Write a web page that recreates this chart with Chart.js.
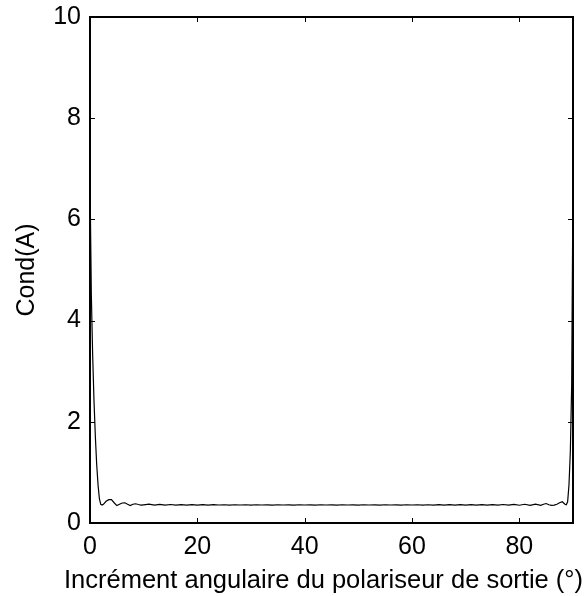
<!DOCTYPE html>
<html>
<head>
<meta charset="utf-8">
<script src="https://cdn.jsdelivr.net/npm/chart.js@4/dist/chart.umd.min.js"></script>
<style>
  body { margin: 0; background: #fff; }
  #wrap { width: 587px; height: 596px; }
</style>
</head>
<body>
<div id="wrap"><canvas id="chart" width="587" height="596"></canvas></div>
<script>
// angle (deg) of the output polariser
const angleDeg = [
  0, 0.25, 0.5, 0.75, 1, 1.25, 1.5, 1.75, 2, 2.25, 2.5, 3, 3.5, 4, 4.5, 5, 5.5, 6, 6.5, 7, 7.5, 8, 8.5, 9, 9.5, 10,
  11, 12, 13, 14, 15, 16, 17, 18, 19, 20, 21, 22, 23, 24, 25, 26, 27, 28, 29, 30,
  31, 32, 33, 34, 35, 36, 37, 38, 39, 40, 41, 42, 43, 44, 45, 46, 47, 48, 49, 50,
  51, 52, 53, 54, 55, 56, 57, 58, 59, 60, 61, 62, 63, 64, 65, 66, 67, 68, 69, 70,
  71, 72, 73, 74, 75, 76, 77, 78, 79, 80, 81, 82, 83, 84,
  84.5, 85, 85.5, 86, 86.5, 87, 87.5, 88, 88.5, 88.75, 89, 89.25, 89.5, 89.75, 90
];
// Cond(A)
const condA = [
  6.8, 4.5, 3.3, 2.4, 1.7, 1.15, 0.75, 0.48, 0.37, 0.355, 0.37, 0.43, 0.46, 0.46, 0.40, 0.345, 0.37, 0.395, 0.40, 0.37, 0.345, 0.37, 0.38, 0.365, 0.355, 0.36,
  0.371, 0.354, 0.368, 0.354, 0.366, 0.355, 0.364, 0.355, 0.363, 0.355, 0.362, 0.355, 0.362, 0.356, 0.361, 0.355, 0.361, 0.356, 0.361, 0.355,
  0.361, 0.356, 0.360, 0.355, 0.361, 0.356, 0.360, 0.355, 0.361, 0.356, 0.360, 0.355, 0.361, 0.356, 0.360, 0.355, 0.361, 0.356, 0.360, 0.355,
  0.361, 0.356, 0.360, 0.355, 0.361, 0.356, 0.360, 0.355, 0.361, 0.356, 0.361, 0.355, 0.361, 0.355, 0.362, 0.355, 0.362, 0.355, 0.362, 0.354,
  0.363, 0.354, 0.364, 0.353, 0.365, 0.353, 0.366, 0.352, 0.368, 0.351, 0.370, 0.350, 0.374, 0.350,
  0.37, 0.385, 0.36, 0.35, 0.355, 0.37, 0.40, 0.42, 0.37, 0.36, 0.42, 0.75, 1.4, 2.7, 6.8
];
const xTicks = [0, 20, 40, 60, 80];
const yTicks = [0, 2, 4, 6, 8, 10];
const xTitle = 'Incrément angulaire du polariseur de sortie (°)';

const family = "'Liberation Sans', Arial, sans-serif";
const font = { family: family, size: 25 };

// MATLAB style box with inward ticks on all sides, plus the x label
// (Chart.js squeezes its own title to the axis width, this one is wider)
const boxTicks = {
  id: 'boxTicks',
  afterDraw(chart) {
    const { ctx, chartArea: a, scales } = chart;
    const x = scales.x, y = scales.y;
    ctx.save();
    ctx.strokeStyle = '#000';
    ctx.lineWidth = 1;
    ctx.beginPath();
    x.ticks.forEach(t => {
      const px = Math.round(x.getPixelForValue(t.value)) + 0.5;
      ctx.moveTo(px, a.bottom); ctx.lineTo(px, a.bottom - 5);
      ctx.moveTo(px, a.top); ctx.lineTo(px, a.top + 5);
    });
    y.ticks.forEach(t => {
      const py = Math.round(y.getPixelForValue(t.value)) + 0.5;
      ctx.moveTo(a.left, py); ctx.lineTo(a.left + 5, py);
      ctx.moveTo(a.right, py); ctx.lineTo(a.right - 5, py);
    });
    ctx.stroke();
    ctx.lineWidth = 2;
    ctx.strokeRect(a.left, a.top, a.right - a.left, a.bottom - a.top);

    ctx.fillStyle = '#000';
    ctx.font = '25.5px ' + family;
    ctx.textAlign = 'center';
    ctx.textBaseline = 'middle';
    ctx.fillText(xTitle, 323.5, 581);
    ctx.restore();
  }
};

const points = angleDeg.map((a, i) => ({ x: a, y: condA[i] }));

new Chart(document.getElementById('chart').getContext('2d'), {
  type: 'line',
  data: {
    datasets: [{
      data: points,
      borderColor: '#000',
      borderWidth: 1.2,
      pointRadius: 0,
      tension: 0,
      fill: false
    }]
  },
  options: {
    responsive: false,
    animation: false,
    layout: { padding: { top: 17, right: 14, left: 0, bottom: 0 } },
    plugins: { legend: { display: false }, tooltip: { enabled: false } },
    scales: {
      x: {
        type: 'linear',
        min: 0,
        max: 90,
        afterBuildTicks: s => { s.ticks = xTicks.map(v => ({ value: v })); },
        afterFit: s => { s.height = 73; s.paddingLeft = 0; s.paddingRight = 0; },
        grid: { display: false, drawTicks: false },
        border: { display: false },
        ticks: { color: '#000', font: font, padding: 9, maxRotation: 0 },
        title: { display: false }
      },
      y: {
        min: 0,
        max: 10,
        afterBuildTicks: s => { s.ticks = yTicks.map(v => ({ value: v })); },
        afterFit: s => { s.width = 90; s.paddingTop = 0; s.paddingBottom = 0; },
        grid: { display: false, drawTicks: false },
        border: { display: false },
        ticks: { color: '#000', font: font, padding: 9 },
        title: {
          display: true,
          text: 'Cond(A)',
          color: '#000',
          font: font,
          padding: { top: 12, bottom: 0 }
        }
      }
    }
  },
  plugins: [boxTicks]
});
</script>
</body>
</html>
